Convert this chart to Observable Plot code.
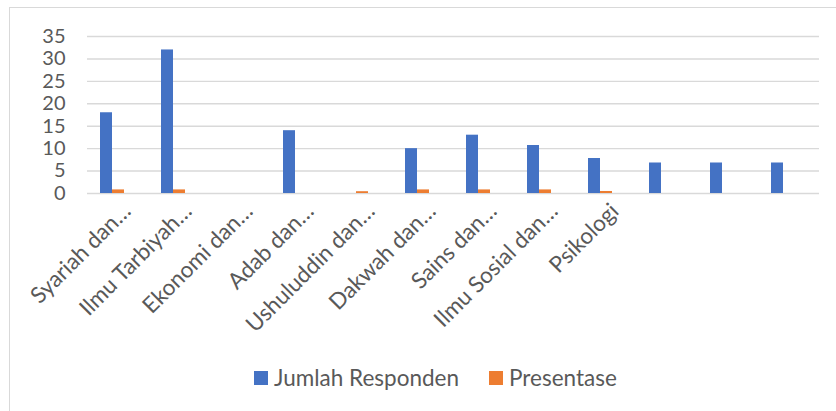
<!DOCTYPE html>
<html>
<head>
<meta charset="utf-8">
<script src="https://cdn.jsdelivr.net/npm/d3@7"></script>
<script src="https://cdn.jsdelivr.net/npm/@observablehq/plot@0.6"></script>
<style>
html, body { margin: 0; padding: 0; background: #fff; }
#wrap { position: relative; width: 836px; height: 411px; overflow: hidden; font-family: Lato, sans-serif; color: #595959; }
#frame { position: absolute; left: 9px; top: 7px; width: 900px; height: 500px; border-left: 1.5px solid #d9d9d9; border-top: 1.5px solid #d9d9d9; box-sizing: border-box; }
#chart { position: absolute; left: 0; top: 0; }
#legend { position: absolute; left: 254px; top: 364px; display: flex; align-items: center; font-size: 22.5px; white-space: nowrap; }
#legend .item { display: flex; align-items: center; margin-right: 30px; }
#legend .sw { width: 14px; height: 14px; margin-right: 6px; }
</style>
</head>
<body>
<div id="wrap">
  <div id="frame"></div>
  <div id="chart"></div>
  <div id="legend"></div>
</div>
<script>
const categories = ["Syariah dan…", "Ilmu Tarbiyah…", "Ekonomi dan…", "Adab dan…", "Ushuluddin dan…", "Dakwah dan…", "Sains dan…", "Ilmu Sosial dan…", "Psikologi", "", "", ""];
const jumlahResponden = [18, 32, null, 14, null, 10, 13, 10.7, 7.8, 6.8, 6.8, 6.8];
const presentase = [0.8, 0.8, null, null, 0.4, 0.8, 0.8, 0.8, 0.45, null, null, null];
const seriesNames = ["Jumlah Responden", "Presentase"];
const seriesColors = ["#4472C4", "#ED7D31"];
const yTicks = [0, 5, 10, 15, 20, 25, 30, 35];

const rows = [];
categories.forEach((c, i) => {
  rows.push({cat: i, series: seriesNames[0], value: jumlahResponden[i]});
  rows.push({cat: i, series: seriesNames[1], value: presentase[i]});
});

const chart = Plot.plot({
  width: 836,
  height: 345,
  marginLeft: 86,
  marginRight: 16,
  marginTop: 36,
  marginBottom: 152,
  style: {fontFamily: "Lato, sans-serif", fontSize: "20px", color: "#595959", background: "transparent", overflow: "visible"},
  fx: {domain: d3.range(categories.length), padding: 0, label: null},
  x: {domain: [...seriesNames, "_"], paddingInner: 0, paddingOuter: 1, axis: null},
  y: {domain: [0, 35], label: null},
  color: {domain: seriesNames, range: seriesColors},
  facet: {data: rows, x: "cat"},
  marks: [
    Plot.ruleY(yTicks, {stroke: "#d9d9d9", strokeWidth: 1.4}),
    Plot.barY(rows, {x: "series", y: "value", fill: "series"}),
    Plot.axisY({ticks: yTicks, tickSize: 0, tickPadding: 22, label: null, fontSize: 20}),
    Plot.axisFx({anchor: "bottom", tickFormat: i => categories[i], tickRotate: -45, tickSize: 0, tickPadding: 14, dx: 9, label: null, fontSize: 22.5})
  ]
});
document.getElementById("chart").appendChild(chart);

const legend = document.getElementById("legend");
seriesNames.forEach((name, i) => {
  const item = document.createElement("div");
  item.className = "item";
  const sw = document.createElement("div");
  sw.className = "sw";
  sw.style.background = seriesColors[i];
  const label = document.createElement("span");
  label.textContent = name;
  item.appendChild(sw);
  item.appendChild(label);
  legend.appendChild(item);
});
</script>
</body>
</html>
